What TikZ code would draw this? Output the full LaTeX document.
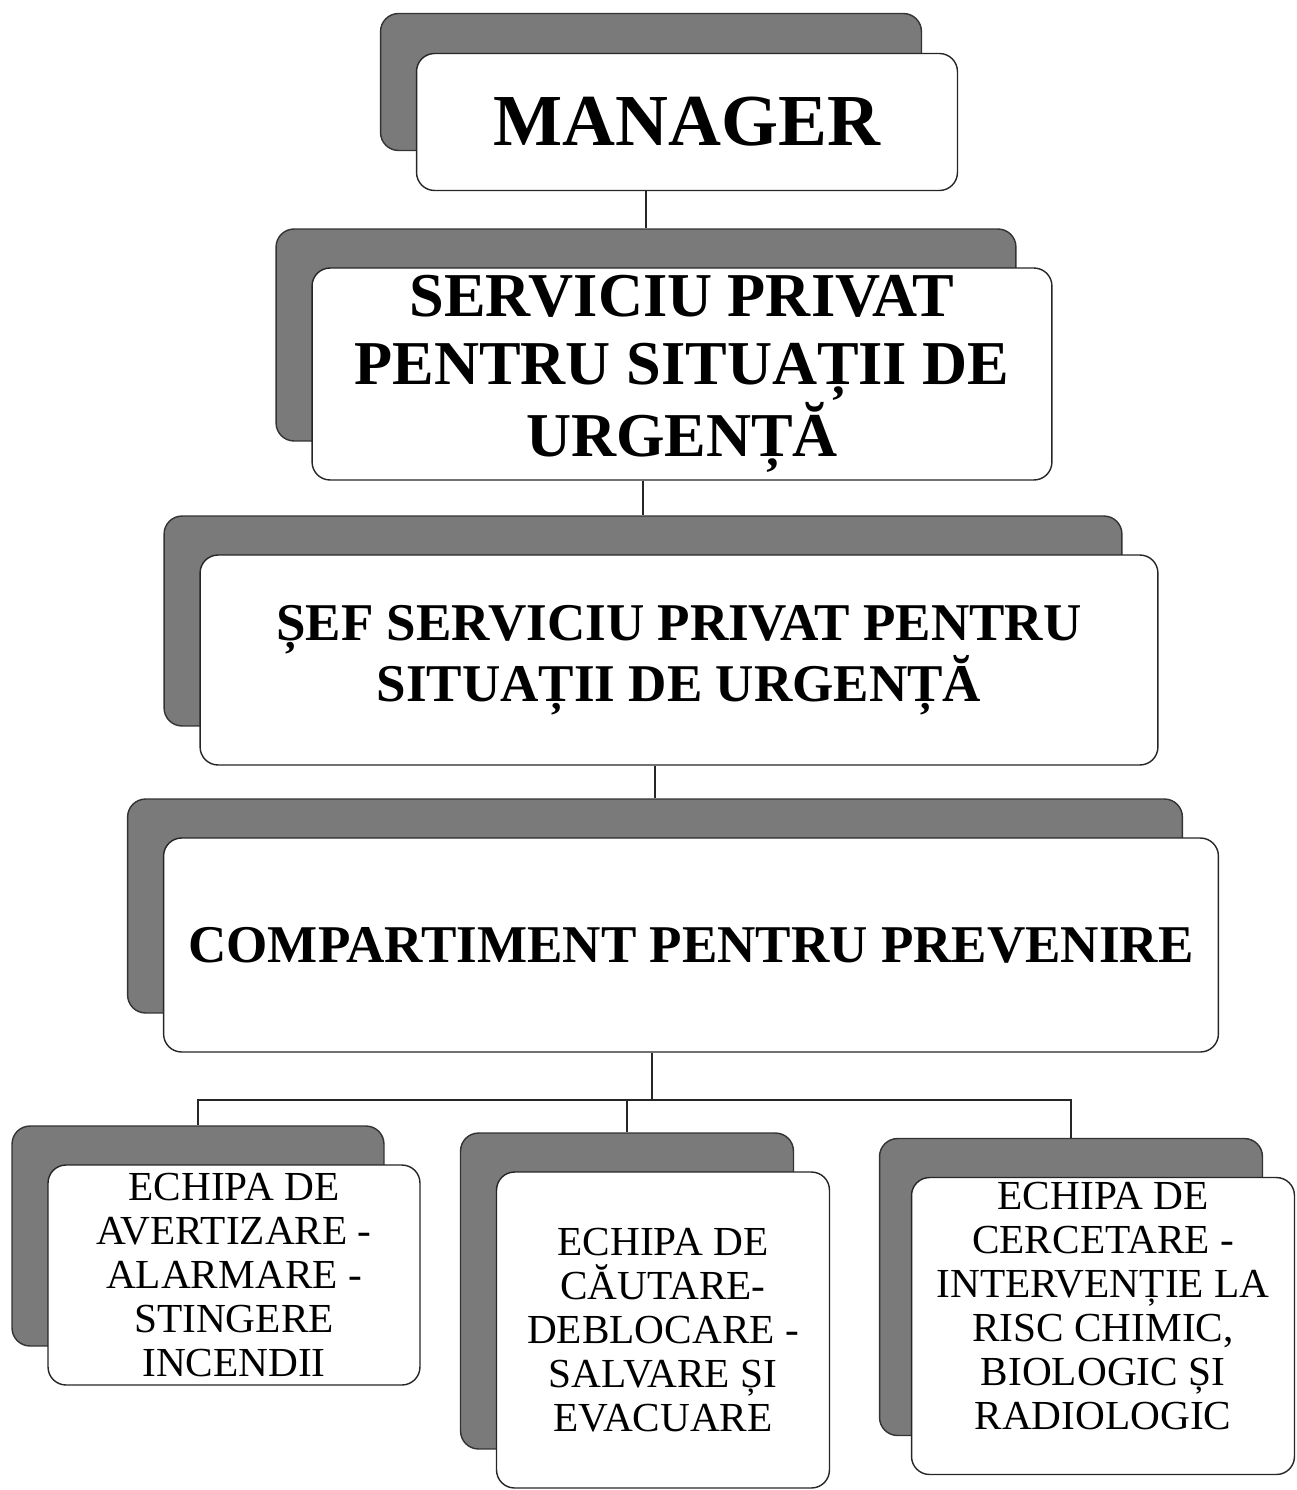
\documentclass[tikz,border=0pt]{standalone}
\usepackage{fontspec}
\setmainfont{Liberation Serif}
\usetikzlibrary{backgrounds}

\begin{document}
\begin{tikzpicture}[x = 0.02cm, y = -0.02cm,
	back/.style = {draw = black!80, fill = black!52, rounded corners = 0.36cm, line width = 0.8pt},
	card/.style = {draw = black!85, fill = white, rounded corners = 0.36cm, line width = 0.8pt, align = center, inner sep = 0pt},
	link/.style = {draw = black!85, line width = 0.8pt},
	head/.style = {font = {\fontsize{41.7}{46}\selectfont\bfseries}},
	title/.style = {font = {\fontsize{35.5}{38.7}\selectfont\bfseries}},
	sub/.style = {font = {\fontsize{30.2}{33}\selectfont\bfseries}},
	team/.style = {font = {\fontsize{23.5}{25}\selectfont}}]
	\useasboundingbox (0,0) rectangle (1297,1490);

	% levels
	\node[back, minimum width = 10.82cm, minimum height = 2.74cm] (mgrS) at (651,82) {};
	\node[card, head, minimum width = 10.82cm, minimum height = 2.74cm] (mgr) at (687,122) {MANAGER};

	\node[back, minimum width = 14.8cm, minimum height = 4.24cm] (spsuS) at (646,335) {};
	\node[card, title, minimum width = 14.8cm, minimum height = 4.24cm] (spsu) at (682,374) {SERVICIU PRIVAT\\PENTRU SITUAȚII DE\\URGENȚĂ};

	\node[back, minimum width = 19.16cm, minimum height = 4.2cm] (sefS) at (643,621) {};
	\node[card, sub, minimum width = 19.16cm, minimum height = 4.2cm] (sef) at (679,660) {ȘEF SERVICIU PRIVAT PENTRU\\SITUAȚII DE URGENȚĂ};

	\node[back, minimum width = 21.1cm, minimum height = 4.28cm] (compS) at (655,906) {};
	\node[card, sub, minimum width = 21.1cm, minimum height = 4.28cm] (comp) at (691,945) {COMPARTIMENT PENTRU PREVENIRE};

	% teams
	\node[back, minimum width = 7.44cm, minimum height = 4.4cm] (eavS) at (198,1236) {};
	\node[card, team, minimum width = 7.44cm, minimum height = 4.4cm] (eav) at (234,1275) {ECHIPA DE\\AVERTIZARE -\\ALARMARE -\\STINGERE\\INCENDII};

	\node[back, minimum width = 6.66cm, minimum height = 6.32cm] (ecdS) at (627,1291) {};
	\node[card, team, minimum width = 6.66cm, minimum height = 6.32cm] (ecd) at (663,1330) {ECHIPA DE\\CĂUTARE-\\DEBLOCARE -\\SALVARE ȘI\\EVACUARE};

	\node[back, minimum width = 7.66cm, minimum height = 5.94cm] (ecrS) at (1071,1287) {};
	\node[card, team, minimum width = 7.66cm, minimum height = 5.94cm] (ecr) at (1103,1326) {ECHIPA DE\\CERCETARE -\\INTERVENȚIE LA\\RISC CHIMIC,\\BIOLOGIC ȘI\\RADIOLOGIC\\[-2.2pt]\mbox{}};

	% links
	\coordinate (bus) at (652,1100);
	\begin{scope}[on background layer]
		\draw[link] (spsuS.north |- mgr.south) -- (spsuS.north);
		\draw[link] (sefS.north |- spsu.south) -- (sefS.north);
		\draw[link] (compS.north |- sef.south) -- (compS.north);
		\draw[link] (bus |- comp.south) -- (bus);
		\draw[link] (eavS.north) |- (bus) -| (ecrS.north);
		\draw[link] (ecdS.north) -- (ecdS.north |- bus);
	\end{scope}
\end{tikzpicture}
\end{document}
